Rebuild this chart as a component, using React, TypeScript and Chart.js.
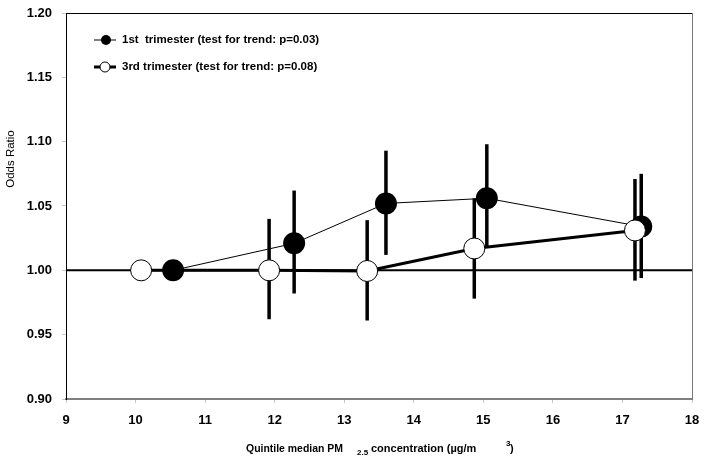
import React, { useEffect, useRef } from "react";
import { Chart, registerables } from "chart.js";

Chart.register(...registerables);

// ---- data ----
const firstX = [10.54, 12.28, 13.6, 15.05, 17.27];
const firstOR = [1.0, 1.021, 1.052, 1.056, 1.034];
const firstLow = [1.0, 0.982, 1.012, 1.018, 0.994];
const firstHigh = [1.0, 1.062, 1.093, 1.098, 1.075];

const thirdX = [10.08, 11.92, 13.33, 14.87, 17.18];
const thirdOR = [1.0, 1.0, 0.9995, 1.017, 1.031];
const thirdLow = [1.0, 0.962, 0.961, 0.978, 0.992];
const thirdHigh = [1.0, 1.04, 1.039, 1.056, 1.071];

const legendLabels = [
  "1st  trimester (test for trend: p=0.03)",
  "3rd trimester (test for trend: p=0.08)",
];
const yTitle = "Odds Ratio";
const xTitleParts = ["Quintile median PM", "2.5", "concentration (\u00b5g/m", "3", ")"];

const FONT = '"Liberation Sans", Arial, sans-serif';

const lows = [firstLow, thirdLow];
const highs = [firstHigh, thirdHigh];

const decorPlugin = {
  id: "decor",
  beforeDatasetsDraw(chart: any) {
    const { ctx, chartArea: a, scales } = chart;
    const ys = scales.y;
    ctx.save();
    // reference line at 1.00
    const y1 = ys.getPixelForValue(1);
    ctx.strokeStyle = "#000";
    ctx.lineWidth = 2;
    ctx.beginPath();
    ctx.moveTo(a.left, y1);
    ctx.lineTo(a.right, y1);
    ctx.stroke();
    // error bars
    ctx.lineWidth = 3.5;
    chart.data.datasets.forEach((ds: any, di: number) => {
      const meta = chart.getDatasetMeta(di);
      meta.data.forEach((pt: any, i: number) => {
        const lo = lows[di][i];
        const hi = highs[di][i];
        if (hi - lo <= 0) return;
        ctx.beginPath();
        ctx.moveTo(pt.x, ys.getPixelForValue(hi));
        ctx.lineTo(pt.x, ys.getPixelForValue(lo));
        ctx.stroke();
      });
    });
    ctx.restore();
  },
  afterDraw(chart: any) {
    const { ctx, chartArea: a } = chart;
    ctx.save();
    // top and right border
    ctx.lineWidth = 1;
    ctx.strokeStyle = "#000";
    ctx.beginPath();
    ctx.moveTo(a.left, a.top + 0.5);
    ctx.lineTo(a.right, a.top + 0.5);
    ctx.stroke();
    ctx.strokeStyle = "#777";
    ctx.beginPath();
    ctx.moveTo(a.right + 0.5, a.top);
    ctx.lineTo(a.right + 0.5, a.bottom);
    ctx.stroke();

    // legend
    const lx = a.left + 28;
    const rows = [a.top + 27, a.top + 54];
    ctx.fillStyle = "#000";
    ctx.strokeStyle = "#000";
    // row 1
    ctx.lineWidth = 1;
    ctx.beginPath();
    ctx.moveTo(lx, rows[0]);
    ctx.lineTo(lx + 22, rows[0]);
    ctx.stroke();
    ctx.beginPath();
    ctx.arc(lx + 12, rows[0], 5, 0, Math.PI * 2);
    ctx.fill();
    // row 2
    ctx.lineWidth = 3;
    ctx.beginPath();
    ctx.moveTo(lx, rows[1]);
    ctx.lineTo(lx + 22, rows[1]);
    ctx.stroke();
    ctx.beginPath();
    ctx.arc(lx + 11, rows[1], 5, 0, Math.PI * 2);
    ctx.fillStyle = "#fff";
    ctx.fill();
    ctx.lineWidth = 1;
    ctx.stroke();
    ctx.fillStyle = "#000";
    ctx.font = "bold 11.5px " + FONT;
    ctx.textBaseline = "middle";
    ctx.textAlign = "left";
    ctx.fillText(legendLabels[0], lx + 28, rows[0]);
    ctx.fillText(legendLabels[1], lx + 28, rows[1]);

    // y title
    ctx.save();
    ctx.translate(11, a.top + 146);
    ctx.rotate(-Math.PI / 2);
    ctx.font = "11.5px " + FONT;
    ctx.textAlign = "center";
    ctx.textBaseline = "middle";
    ctx.fillText(yTitle, 0, 0);
    ctx.restore();

    // x title
    const ty = a.bottom + 53;
    ctx.textAlign = "left";
    ctx.textBaseline = "alphabetic";
    ctx.font = "bold 11px " + FONT;
    ctx.fillText(xTitleParts[0], 246, ty, 97);
    ctx.font = "bold 8px " + FONT;
    ctx.fillText(xTitleParts[1], 357, ty + 3);
    ctx.font = "bold 11px " + FONT;
    ctx.fillText(xTitleParts[2], 371, ty, 118);
    ctx.font = "bold 8px " + FONT;
    ctx.fillText(xTitleParts[3], 506, ty - 6);
    ctx.font = "bold 11px " + FONT;
    ctx.fillText(xTitleParts[4], 510, ty);
    ctx.restore();
  },
};

export default function App() {
  const ref = useRef<HTMLCanvasElement | null>(null);
  useEffect(() => {
    document.body.style.margin = "0";
    const canvas = ref.current!;
    const chart = new Chart(canvas, {
      type: "line",
      data: {
        datasets: [
          {
            label: legendLabels[0],
            data: firstX.map((x, i) => ({ x, y: firstOR[i] })),
            borderColor: "#000",
            borderWidth: 1,
            pointRadius: 11,
            pointBackgroundColor: "#000",
            pointBorderColor: "#000",
            pointBorderWidth: 0,
            order: 1,
          },
          {
            label: legendLabels[1],
            data: thirdX.map((x, i) => ({ x, y: thirdOR[i] })),
            borderColor: "#000",
            borderWidth: 3,
            pointRadius: 10.5,
            pointBackgroundColor: "#fff",
            pointBorderColor: "#000",
            pointBorderWidth: 1,
            order: 0,
          },
        ],
      },
      options: {
        responsive: false,
        animation: false,
        layout: { padding: { left: 0, top: 13, right: 13, bottom: 0 } },
        plugins: { legend: { display: false }, tooltip: { enabled: false } },
        elements: { line: { tension: 0 } },
        scales: {
          x: {
            type: "linear",
            min: 9,
            max: 18,
            ticks: {
              stepSize: 1,
              color: "#000",
              font: { family: FONT, size: 13, weight: "bold", lineHeight: 1.85 },
              padding: 5,
              maxRotation: 0,
            },
            grid: { drawOnChartArea: false, drawTicks: true, tickLength: 4, color: "#c8c8c8" },
            border: { color: "#808080", width: 2 },
            afterFit: (s: any) => {
              s.height = 62;
            },
          },
          y: {
            type: "linear",
            min: 0.9,
            max: 1.2,
            ticks: {
              stepSize: 0.05,
              color: "#000",
              font: { family: FONT, size: 13, weight: "bold", lineHeight: 0.4 },
              padding: 10,
              callback: (v: any) => Number(v).toFixed(2),
            },
            grid: { drawOnChartArea: false, drawTicks: true, tickLength: 4, color: "#c8c8c8" },
            border: { color: "#000", width: 1 },
            afterFit: (s: any) => {
              s.width = 66;
            },
          },
        },
      },
      plugins: [decorPlugin],
    });
    return () => chart.destroy();
  }, []);
  return <canvas ref={ref} width={705} height={461} style={{ display: "block" }} />;
}
